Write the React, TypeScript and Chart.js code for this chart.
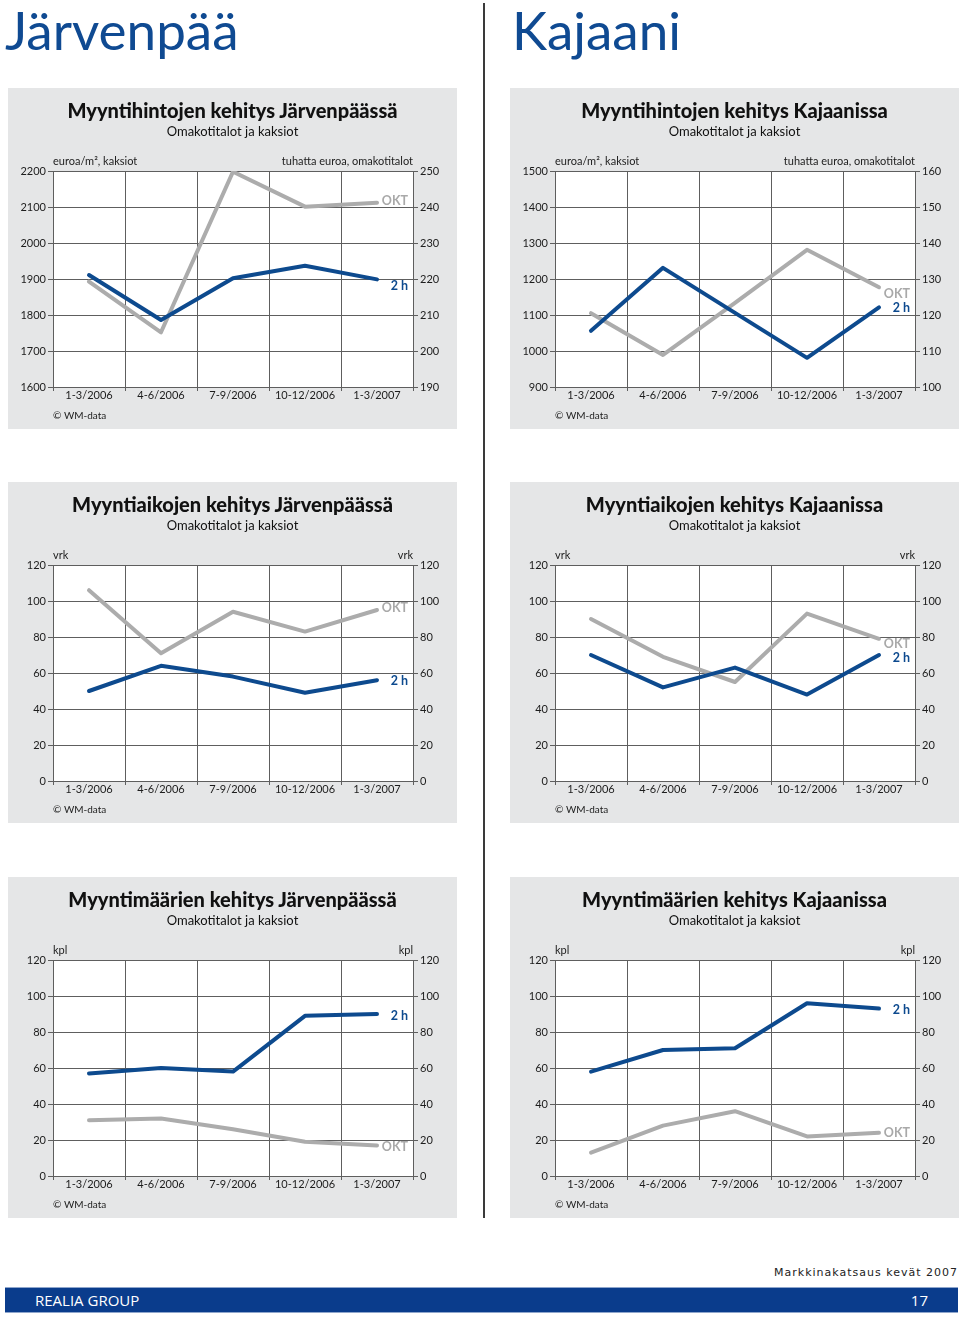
import React, { useEffect, useRef } from 'react';
import { Chart, registerables } from 'chart.js';

Chart.register(...registerables);

// ---------- data ----------
const categories = ['1-3/2006', '4-6/2006', '7-9/2006', '10-12/2006', '1-3/2007'];

const jarvenpaaPrice2h = [1911, 1786, 1902, 1937, 1899];
const jarvenpaaPriceOkt = [219.3, 205.2, 249.8, 240.1, 241.2];
const kajaaniPrice2h = [1056, 1231, 1106, 981, 1121];
const kajaaniPriceOkt = [120.5, 108.9, 123.4, 138.1, 127.7];

const jarvenpaaTime2h = [50, 64, 58, 49, 56];
const jarvenpaaTimeOkt = [106, 71, 94, 83, 95];
const kajaaniTime2h = [70, 52, 63, 48, 70];
const kajaaniTimeOkt = [90, 69, 55, 93, 79];

const jarvenpaaCount2h = [57, 60, 58, 89, 90];
const jarvenpaaCountOkt = [31, 32, 26, 19, 17];
const kajaaniCount2h = [58, 70, 71, 96, 93];
const kajaaniCountOkt = [13, 28, 36, 22, 24];

const priceJarvenpaaLeftTicks = [1600, 2200, 100];
const priceJarvenpaaRightTicks = [190, 250, 10];
const priceKajaaniLeftTicks = [900, 1500, 100];
const priceKajaaniRightTicks = [100, 160, 10];
const countTicks = [0, 120, 20];

// ---------- styles ----------
const BLUE = '#0d4a8e';
const GRAY = '#acacac';
const GRID = '#5e5e5e';
const TXT = '#1c1c1c';
const PANEL_BG = '#e5e6e7';
const FONT = 'Lato, "Open Sans", sans-serif';
const PANEL_W = 449;
const PANEL_H = 341;

type PanelCfg = {
  title: string;
  subtitle: string;
  x: number;
  y: number;
  leftUnit: string;
  rightUnit: string;
  blue: number[];
  gray: number[];
  leftTicks: number[];
  rightTicks: number[];
  oktDy: number;
  hDy: number;
};

const decoPlugin = {
  id: 'panelDeco',
  beforeDraw(chart: any) {
    const { ctx, chartArea: a } = chart;
    ctx.save();
    ctx.fillStyle = '#ffffff';
    ctx.fillRect(a.left, a.top, a.right - a.left, a.bottom - a.top);
    ctx.restore();
  },
  afterDraw(chart: any, _args: any, opts: any) {
    const { ctx, chartArea: a } = chart;
    ctx.save();
    ctx.fillStyle = TXT;
    ctx.textBaseline = 'middle';
    ctx.font = `11px ${FONT}`;
    ctx.textAlign = 'left';
    ctx.fillText(opts.leftUnit, a.left, a.top - 10);
    ctx.textAlign = 'right';
    ctx.fillText(opts.rightUnit, a.right, a.top - 10);
    ctx.textAlign = 'left';
    ctx.font = `10px ${FONT}`;
    ctx.fillText('© WM-data', a.left, a.bottom + 29);

    ctx.font = `bold 12.5px ${FONT}`;
    ctx.textAlign = 'right';
    const mBlue = chart.getDatasetMeta(0);
    const mGray = chart.getDatasetMeta(1);
    const lb = mBlue.data[mBlue.data.length - 1];
    const lg = mGray.data[mGray.data.length - 1];
    ctx.fillStyle = BLUE;
    ctx.fillText('2 h', a.right - 5, lb.y + opts.hDy);
    ctx.fillStyle = '#a9a9a9';
    ctx.fillText('OKT', a.right - 5, lg.y + opts.oktDy);
    ctx.restore();
  },
};

function Panel({ cfg }: { cfg: PanelCfg }) {
  const ref = useRef<HTMLCanvasElement>(null);
  useEffect(() => {
    if (!ref.current) return;
    const tickFont = { family: FONT, size: 11 };
    const chart = new Chart(ref.current, {
      type: 'line',
      data: {
        labels: categories,
        datasets: [
          {
            label: '2 h',
            data: cfg.blue,
            borderColor: BLUE,
            borderWidth: 4,
            yAxisID: 'y',
            pointRadius: 0,
            borderCapStyle: 'round',
            borderJoinStyle: 'round',
            fill: false,
            tension: 0,
          },
          {
            label: 'OKT',
            data: cfg.gray,
            borderColor: GRAY,
            borderWidth: 4,
            yAxisID: 'y1',
            pointRadius: 0,
            borderCapStyle: 'round',
            borderJoinStyle: 'round',
            fill: false,
            tension: 0,
          },
        ],
      },
      options: {
        animation: false,
        responsive: false,
        maintainAspectRatio: false,
        layout: { padding: { top: 83, left: 0, right: 0, bottom: 0 } },
        plugins: {
          legend: { display: false },
          title: { display: false },
          tooltip: { enabled: false },
          panelDeco: {
            leftUnit: cfg.leftUnit,
            rightUnit: cfg.rightUnit,
            oktDy: cfg.oktDy,
            hDy: cfg.hDy,
          },
        } as any,
        scales: {
          x: {
            type: 'category',
            offset: true,
            grid: { offset: true, color: GRID, lineWidth: 1, tickLength: 4, drawTicks: true },
            border: { color: GRID, width: 1 },
            ticks: { font: tickFont, color: TXT, padding: -2, maxRotation: 0, autoSkip: false },
            afterFit: (s: any) => {
              s.height = 42;
            },
          },
          y: {
            position: 'left',
            min: cfg.leftTicks[0],
            max: cfg.leftTicks[1],
            ticks: {
              stepSize: cfg.leftTicks[2],
              font: tickFont,
              color: TXT,
              padding: 2,
              callback: (v: any) => String(v),
            },
            grid: { color: GRID, lineWidth: 1, tickLength: 5 },
            border: { color: GRID, width: 1 },
            afterFit: (s: any) => {
              s.width = 45;
            },
          },
          y1: {
            position: 'right',
            min: cfg.rightTicks[0],
            max: cfg.rightTicks[1],
            ticks: {
              stepSize: cfg.rightTicks[2],
              font: tickFont,
              color: TXT,
              padding: 2,
              callback: (v: any) => String(v),
            },
            grid: { color: GRID, lineWidth: 1, tickLength: 5, drawOnChartArea: false },
            border: { color: GRID, width: 1 },
            afterFit: (s: any) => {
              s.width = 44;
            },
          },
        },
      } as any,
      plugins: [decoPlugin as any],
    });
    return () => chart.destroy();
  }, [cfg]);

  return (
    <div
      style={{
        position: 'absolute',
        left: cfg.x,
        top: cfg.y,
        width: PANEL_W,
        height: PANEL_H,
        background: PANEL_BG,
      }}
    >
      <canvas
        ref={ref}
        width={PANEL_W}
        height={PANEL_H}
        style={{ position: 'absolute', left: 0, top: 0, width: PANEL_W, height: PANEL_H }}
      />
      <div
        style={{
          position: 'absolute',
          left: 0,
          top: 10,
          width: PANEL_W,
          height: 24,
          lineHeight: '24px',
          textAlign: 'center',
          fontFamily: FONT,
          fontWeight: 900,
          fontSize: 20,
          color: '#111',
          whiteSpace: 'nowrap',
        }}
      >
        {cfg.title}
      </div>
      <div
        style={{
          position: 'absolute',
          left: 0,
          top: 35,
          width: PANEL_W,
          height: 16,
          lineHeight: '16px',
          textAlign: 'center',
          fontFamily: FONT,
          fontSize: 13,
          color: '#111',
          whiteSpace: 'nowrap',
        }}
      >
        {cfg.subtitle}
      </div>
    </div>
  );
}

const SUB = 'Omakotitalot ja kaksiot';

const panels: PanelCfg[] = [
  {
    title: 'Myyntihintojen kehitys Järvenpäässä',
    subtitle: SUB,
    x: 8,
    y: 88,
    leftUnit: 'euroa/m², kaksiot',
    rightUnit: 'tuhatta euroa, omakotitalot',
    blue: jarvenpaaPrice2h,
    gray: jarvenpaaPriceOkt,
    leftTicks: priceJarvenpaaLeftTicks,
    rightTicks: priceJarvenpaaRightTicks,
    oktDy: -2,
    hDy: 7,
  },
  {
    title: 'Myyntihintojen kehitys Kajaanissa',
    subtitle: SUB,
    x: 510,
    y: 88,
    leftUnit: 'euroa/m², kaksiot',
    rightUnit: 'tuhatta euroa, omakotitalot',
    blue: kajaaniPrice2h,
    gray: kajaaniPriceOkt,
    leftTicks: priceKajaaniLeftTicks,
    rightTicks: priceKajaaniRightTicks,
    oktDy: 7,
    hDy: 1,
  },
  {
    title: 'Myyntiaikojen kehitys Järvenpäässä',
    subtitle: SUB,
    x: 8,
    y: 482,
    leftUnit: 'vrk',
    rightUnit: 'vrk',
    blue: jarvenpaaTime2h,
    gray: jarvenpaaTimeOkt,
    leftTicks: countTicks,
    rightTicks: countTicks,
    oktDy: -2,
    hDy: 1,
  },
  {
    title: 'Myyntiaikojen kehitys Kajaanissa',
    subtitle: SUB,
    x: 510,
    y: 482,
    leftUnit: 'vrk',
    rightUnit: 'vrk',
    blue: kajaaniTime2h,
    gray: kajaaniTimeOkt,
    leftTicks: countTicks,
    rightTicks: countTicks,
    oktDy: 5,
    hDy: 3,
  },
  {
    title: 'Myyntimäärien kehitys Järvenpäässä',
    subtitle: SUB,
    x: 8,
    y: 877,
    leftUnit: 'kpl',
    rightUnit: 'kpl',
    blue: jarvenpaaCount2h,
    gray: jarvenpaaCountOkt,
    leftTicks: countTicks,
    rightTicks: countTicks,
    oktDy: 2,
    hDy: 2,
  },
  {
    title: 'Myyntimäärien kehitys Kajaanissa',
    subtitle: SUB,
    x: 510,
    y: 877,
    leftUnit: 'kpl',
    rightUnit: 'kpl',
    blue: kajaaniCount2h,
    gray: kajaaniCountOkt,
    leftTicks: countTicks,
    rightTicks: countTicks,
    oktDy: 0,
    hDy: 1,
  },
];

const headerStyle: React.CSSProperties = {
  position: 'absolute',
  top: 3,
  fontFamily: FONT,
  fontSize: 53,
  lineHeight: '53px',
  color: '#0f4a92',
  whiteSpace: 'nowrap',
};

export default function App() {
  return (
    <div style={{ position: 'absolute', left: 0, top: 0, width: 960, height: 1317, background: '#fff', overflow: 'hidden' }}>
      <div style={{ ...headerStyle, left: 5 }}>Järvenpää</div>
      <div style={{ ...headerStyle, left: 512 }}>Kajaani</div>
      <div style={{ position: 'absolute', left: 483, top: 3, width: 2, height: 1215, background: '#3a3a3a' }} />
      {panels.map((p, i) => (
        <Panel key={i} cfg={p} />
      ))}
      <div
        style={{
          position: 'absolute',
          right: 2,
          top: 1265,
          height: 16,
          lineHeight: '16px',
          fontFamily: '"DejaVu Sans", sans-serif',
          fontSize: 11,
          letterSpacing: 1,
          color: '#222',
          whiteSpace: 'nowrap',
        }}
      >
        Markkinakatsaus kevät 2007
      </div>
      <div
        style={{
          position: 'absolute',
          left: 5,
          top: 1287,
          width: 953,
          height: 26,
          background: '#0a3c8c',
          borderTop: '1px solid #8fa6cc',
          borderBottom: '1px solid #8fa6cc',
          boxSizing: 'border-box',
        }}
      >
        <div
          style={{
            position: 'absolute',
            left: 30,
            top: 0,
            lineHeight: '24px',
            fontFamily: '"Open Sans", sans-serif',
            fontSize: 15,
            color: '#fff',
          }}
        >
          REALIA GROUP
        </div>
        <div
          style={{
            position: 'absolute',
            right: 30,
            top: 0,
            lineHeight: '24px',
            fontFamily: '"Open Sans", sans-serif',
            fontSize: 15,
            color: '#fff',
          }}
        >
          17
        </div>
      </div>
    </div>
  );
}
